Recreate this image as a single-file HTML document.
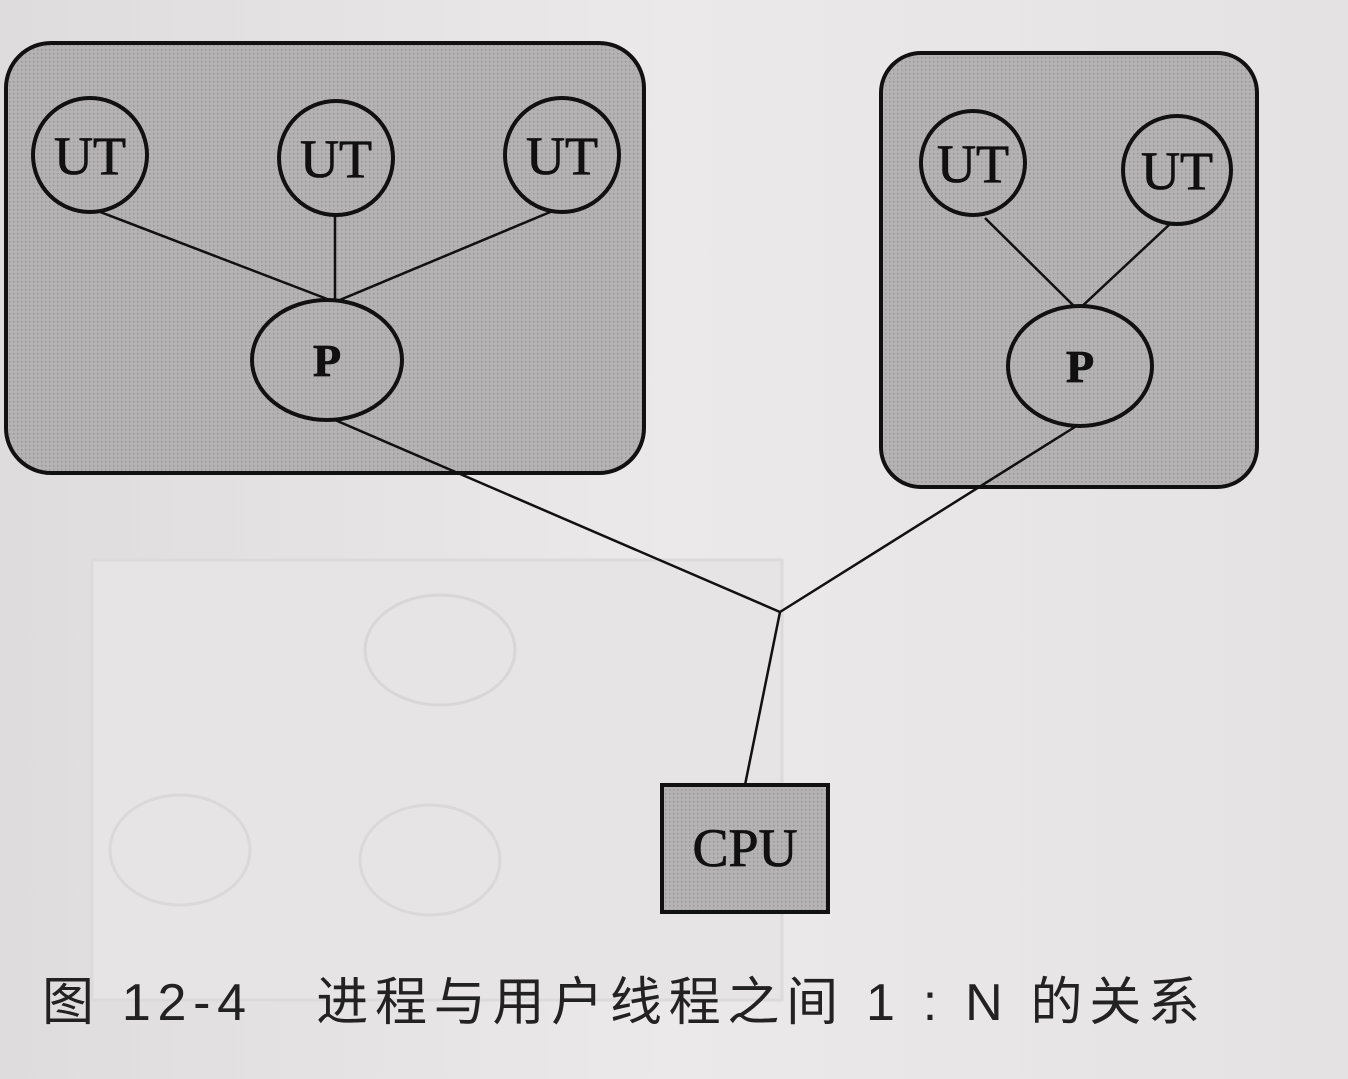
<!DOCTYPE html>
<html><head><meta charset="utf-8">
<style>
html,body{margin:0;padding:0;}
body{width:1348px;height:1079px;overflow:hidden;background:linear-gradient(90deg,#dedcdc 0%,#ebe9e9 50%,#e4e2e2 100%);}
svg{display:block;}
</style></head><body>
<svg width="1348" height="1079" viewBox="0 0 1348 1079">
<defs>
<pattern id="dots" width="4" height="4" patternUnits="userSpaceOnUse">
<rect width="4" height="4" fill="#b4b2b2"/>
<rect x="1" y="1" width="1.5" height="1.5" fill="#9a9898"/>
</pattern>
</defs>
<rect x="92" y="560" width="690" height="440" fill="#e6e4e4" stroke="#dcdada" stroke-width="3"/>
<ellipse cx="440" cy="650" rx="75" ry="55" fill="none" stroke="#d8d6d6" stroke-width="3"/>
<ellipse cx="180" cy="850" rx="70" ry="55" fill="none" stroke="#dad8d8" stroke-width="3"/>
<ellipse cx="430" cy="860" rx="70" ry="55" fill="none" stroke="#dad8d8" stroke-width="3"/>

<rect x="6" y="43" width="638" height="430" rx="45" fill="url(#dots)" stroke="#111" stroke-width="4"/>
<rect x="881" y="53" width="376" height="434" rx="40" fill="url(#dots)" stroke="#111" stroke-width="4"/>

<g stroke="#111" stroke-width="2.5" fill="none">
<line x1="95" y1="210" x2="335" y2="302"/>
<line x1="335" y1="215" x2="335" y2="302"/>
<line x1="555" y1="210" x2="335" y2="302"/>
<line x1="985" y1="218" x2="1078" y2="310"/>
<line x1="1170" y1="224" x2="1078" y2="310"/>
<line x1="335" y1="420" x2="780" y2="612"/>
<line x1="1078" y1="425" x2="780" y2="612"/>
<line x1="780" y1="612" x2="745" y2="785"/>
</g>

<g fill="url(#dots)" stroke="#111" stroke-width="4">
<circle cx="90" cy="155" r="57"/>
<circle cx="336" cy="158" r="57"/>
<circle cx="562" cy="155" r="57"/>
<ellipse cx="327" cy="360" rx="75" ry="60"/>
<circle cx="973" cy="163" r="52"/>
<circle cx="1177" cy="170" r="54"/>
<ellipse cx="1080" cy="366" rx="72" ry="60"/>
<rect x="662" y="785" width="166" height="127"/>
</g>

<g font-family="Liberation Serif, serif" font-size="54" fill="#111" text-anchor="middle" stroke="#111" stroke-width="0.8">
<text x="90" y="174">UT</text>
<text x="336" y="177">UT</text>
<text x="562" y="174">UT</text>
<text x="973" y="182">UT</text>
<text x="1177" y="189">UT</text>
<text x="327" y="376" font-weight="bold" font-size="46">P</text>
<text x="1080" y="382" font-weight="bold" font-size="46">P</text>
<text x="745" y="866">CPU</text>
</g>

<text x="42" y="1020" textLength="1158" lengthAdjust="spacing" font-family="Liberation Sans, 'Noto Sans CJK SC', sans-serif" font-size="52" fill="#222" xml:space="preserve">图 12-4   进程与用户线程之间 1 : N 的关系</text>
</svg>
</body></html>
